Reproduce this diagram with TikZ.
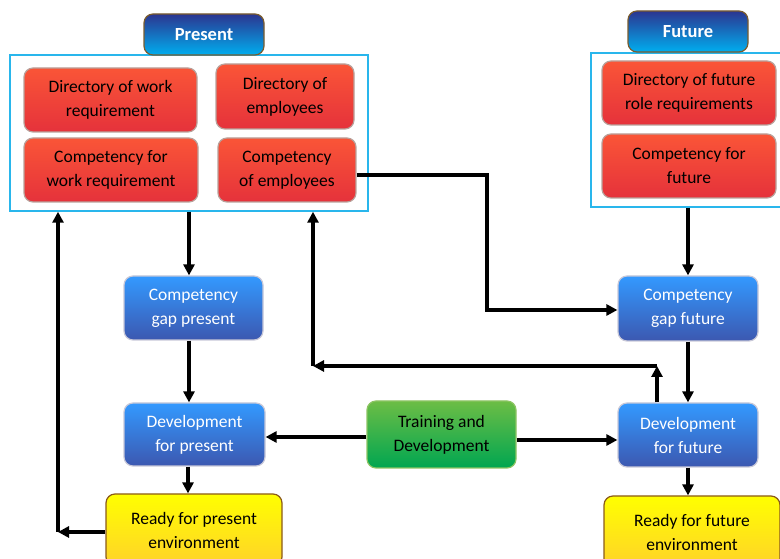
\documentclass[tikz,border=0pt]{standalone}
\usepackage{fontspec}
\setmainfont{Carlito}
\usetikzlibrary{arrows.meta}

\definecolor{headtop}{HTML}{2B3590}
\definecolor{headbot}{HTML}{00AEEF}
\definecolor{headedge}{HTML}{7A5C2E}
\definecolor{redtop}{HTML}{FA5537}
\definecolor{redbot}{HTML}{E5323B}
\definecolor{rededge}{HTML}{B9A19B}
\definecolor{bluetop}{HTML}{3399FF}
\definecolor{bluebot}{HTML}{3C58B0}
\definecolor{blueedge}{HTML}{C8C8D8}
\definecolor{greentop}{HTML}{6CBD45}
\definecolor{greenbot}{HTML}{00A651}
\definecolor{greenedge}{HTML}{8CC463}
\definecolor{yellowtop}{HTML}{FFFF00}
\definecolor{yellowbot}{HTML}{FFD22A}
\definecolor{yellowedge}{HTML}{8B5A1A}
\definecolor{frameblue}{HTML}{29B6EC}

\tikzset{
  x=1pt, y=1pt,
  boxbase/.style={rounded corners=9pt, inner sep=0pt, align=center,
    line width=1.2pt, font=\fontsize{17.5}{24}\selectfont},
  headbox/.style={boxbase, top color=headtop, bottom color=headbot,
    draw=headedge, text=white, font=\fontsize{18.5}{24}\selectfont\bfseries,
    minimum width=120pt, minimum height=41pt},
  redbox/.style={boxbase, top color=redtop, bottom color=redbot,
    draw=rededge, text=black},
  bluebox/.style={boxbase, top color=bluetop, bottom color=bluebot,
    draw=blueedge, text=white},
  greenbox/.style={boxbase, top color=greentop, bottom color=greenbot,
    draw=greenedge, text=black},
  yellowbox/.style={boxbase, top color=yellowtop, bottom color=yellowbot,
    draw=yellowedge, text=black},
  groupframe/.style={draw=frameblue, line width=1.5pt, inner sep=0pt},
  flow/.style={line width=3.4pt, draw=black,
    -{Triangle[length=11pt,width=11pt]}},
}

\begin{document}
\begin{tikzpicture}
\useasboundingbox (0,0) rectangle (780,559);

% group frames
\node[groupframe, minimum width=358pt, minimum height=156pt] (presentframe) at (189,426) {};
\node[groupframe, minimum width=191pt, minimum height=154pt] (futureframe) at (686.5,429) {};

% headers
\node[headbox] (presenthead) at (204,524.5) {Present};
\node[headbox] (futurehead) at (688,527.5) {Future};

% present requirements
\node[redbox, minimum width=173pt, minimum height=64pt] (dirwork) at (110.5,459) {Directory of work\\requirement};
\node[redbox, minimum width=138pt, minimum height=65pt] (diremp) at (285,462.5) {Directory of\\employees};
\node[redbox, minimum width=174pt, minimum height=64pt] (compwork) at (111,389) {Competency for\\work requirement};
\node[redbox, minimum width=138pt, minimum height=64pt] (compemp) at (287,389) {Competency\\of employees};

% future requirements
\node[redbox, minimum width=174pt, minimum height=64pt] (dirfut) at (689,466) {Directory of future\\role requirements};
\node[redbox, minimum width=174pt, minimum height=64pt] (compfut) at (689,393) {Competency for\\future};

% gaps and development
\node[bluebox, minimum width=139pt, minimum height=64pt] (gappres) at (193.5,251) {Competency\\gap present};
\node[bluebox, minimum width=141pt, minimum height=63pt] (devpres) at (194.5,124.5) {Development\\for present};
\node[bluebox, minimum width=140pt, minimum height=65pt] (gapfut) at (688,250.5) {Competency\\gap future};
\node[bluebox, minimum width=140pt, minimum height=64pt] (devfut) at (688,124) {Development\\for future};

\node[greenbox, minimum width=149pt, minimum height=67pt] (training) at (441.5,124.5) {Training and\\Development};

% outcomes
\node[yellowbox, minimum width=176pt, minimum height=72pt] (readypres) at (194,29) {Ready for present\\environment};
\node[yellowbox, minimum width=176pt, minimum height=72pt] (readyfut) at (692,27) {Ready for future\\environment};

% routing corners
\coordinate (presdown) at (189,0);
\coordinate (backpres) at (58,27);
\coordinate (empturn1) at (487,384);
\coordinate (empturn2) at (487,249);
\coordinate (loopup) at (657,193);
\coordinate (loopleft) at (313,193);

% present column
\draw[flow] (presdown |- presentframe.south) -- (presdown |- gappres.north);
\draw[flow] (presdown |- gappres.south) -- (presdown |- devpres.north);
\draw[flow] ([xshift=-1pt]presdown |- devpres.south) -- ([xshift=-1pt]presdown |- readypres.north);
\draw[flow] (readypres.west |- backpres) -- (backpres);
\draw[flow] (backpres) -- (backpres |- presentframe.south);

% employee competency feeds the future gap
\draw[flow] ([yshift=-5pt]compemp.east) -- (empturn1) -- (empturn2) -- (empturn2 -| gapfut.west);

% future column
\draw[flow] (gapfut.north |- futureframe.south) -- (gapfut.north);
\draw[flow] (gapfut.south) -- (devfut.north);
\draw[flow] (devfut.south) -- (devfut.south |- readyfut.north);
\draw[flow] (loopup |- devfut.north) -- (loopup);
\draw[flow] (loopup) -- (loopleft);
\draw[flow] (loopleft) -- (loopleft |- presentframe.south);

% training and development
\draw[flow] ([yshift=-2.5pt]training.west) -- ([yshift=-2.5pt]training.west -| devpres.east);
\draw[flow] ([yshift=-5.5pt]training.east) -- ([yshift=-5.5pt]training.east -| devfut.west);
\end{tikzpicture}
\end{document}
